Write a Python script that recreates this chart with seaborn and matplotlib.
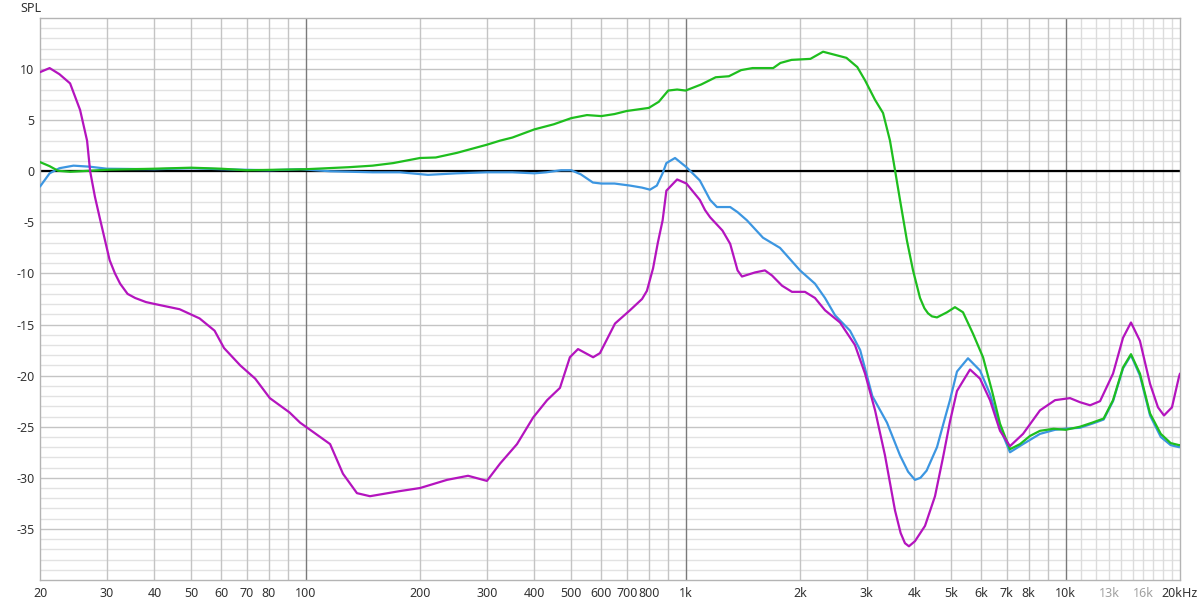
import numpy as np
import pandas as pd
import matplotlib
matplotlib.use('Agg')
import matplotlib.pyplot as plt
import seaborn as sns

# --- Dados (Hz, dB) ---
freq_blue = [20, 21.2, 22.5, 24.5, 27, 30, 40, 50, 60, 80, 97, 116, 150, 177, 210, 250,
             300, 350, 400, 430, 470, 500, 530, 570, 600, 650, 714, 768, 806, 840, 870,
             890, 938, 1005, 1090, 1160, 1209, 1310, 1370, 1450, 1598, 1772, 2000, 2190,
             2327, 2474, 2708, 2880, 3000, 3100, 3388, 3666, 3850, 4014, 4150, 4307, 4587,
             4818, 4962, 5178, 5535, 5954, 6325, 6720, 7138, 7726, 8560, 9380, 10000,
             10910, 11750, 12590, 13330, 14160, 14860, 15690, 16680, 17800, 18900, 19880,
             20000]
spl_blue = [-1.5, -0.2, 0.3, 0.55, 0.45, 0.25, 0.2, 0.3, 0.2, 0.1, 0.2, 0.0, -0.1, -0.1,
            -0.35, -0.2, -0.1, -0.1, -0.2, -0.1, 0.1, 0.1, -0.3, -1.1, -1.2, -1.2, -1.4,
            -1.6, -1.8, -1.4, -0.2, 0.8, 1.3, 0.4, -0.9, -2.8, -3.5, -3.5, -4.0, -4.8, -6.5,
            -7.5, -9.7, -11.0, -12.4, -14.1, -15.6, -17.5, -20.0, -22.0, -24.6, -27.8,
            -29.4, -30.2, -30.0, -29.3, -27.0, -24.1, -22.4, -19.6, -18.3, -19.5, -21.8,
            -25.1, -27.5, -26.7, -25.7, -25.3, -25.2, -25.1, -24.7, -24.3, -22.5, -19.3,
            -18.0, -20.0, -23.9, -26.0, -26.8, -27.0, -27.0]

freq_green = [20, 21.2, 22.3, 24, 27, 30, 40, 50, 60, 70, 100, 130, 150, 170, 200, 220,
              250, 300, 325, 350, 400, 450, 500, 550, 600, 650, 700, 800, 850, 900, 950,
              1000, 1100, 1200, 1300, 1400, 1500, 1700, 1776, 1900, 2130, 2300, 2650, 2830,
              2966, 3150, 3308, 3450, 3557, 3666, 3824, 3967, 4139, 4250, 4344, 4450, 4587,
              4874, 5115, 5370, 5706, 6063, 6402, 6720, 7138, 7586, 8060, 8562, 9300, 10000,
              10910, 11750, 12590, 13330, 14160, 14860, 15690, 16680, 17800, 18900, 19880,
              20000]
spl_green = [0.9, 0.5, 0.05, -0.05, 0.05, 0.15, 0.25, 0.35, 0.25, 0.1, 0.2, 0.4, 0.55,
             0.8, 1.3, 1.35, 1.8, 2.6, 3.0, 3.3, 4.1, 4.6, 5.2, 5.5, 5.4, 5.6, 5.9, 6.2,
             6.8, 7.9, 8.0, 7.9, 8.5, 9.2, 9.3, 9.9, 10.1, 10.1, 10.6, 10.9, 11.0, 11.7,
             11.1, 10.2, 8.9, 7.0, 5.7, 3.0, 0.1, -2.8, -6.8, -9.7, -12.4, -13.4, -13.9,
             -14.2, -14.3, -13.8, -13.3, -13.8, -15.9, -18.2, -21.5, -24.7, -27.2, -26.7,
             -25.9, -25.4, -25.2, -25.3, -25.0, -24.6, -24.2, -22.4, -19.2, -17.9, -19.8,
             -23.7, -25.7, -26.6, -26.8, -26.8]

freq_mag = [20, 21.2, 22.5, 24, 25.5, 26.6, 27.1, 27.9, 28.7, 30.5, 31.5, 32.5, 34,
            35.6, 38, 40.2, 46.6, 52.6, 57.6, 61, 67.3, 73.7, 80.5, 90.7, 96.7, 116, 125.4,
            136.5, 147.7, 177, 200, 235.6, 267.6, 300, 325, 360, 397, 432, 467, 496, 521,
            571, 595, 652, 714, 768, 791, 821, 845, 870, 890, 950, 1005, 1090, 1125, 1160,
            1250, 1310, 1370, 1407, 1523, 1617, 1688, 1794, 1905, 2061, 2190, 2327, 2549,
            2790, 2966, 3152, 3347, 3557, 3680, 3778, 3870, 4014, 4266, 4532, 4758, 4962,
            5178, 5604, 5954, 6325, 6720, 7138, 7726, 8562, 9380, 10270, 10910, 11600,
            12320, 13330, 14160, 14860, 15690, 16680, 17500, 18150, 19050, 19880, 20000]
spl_mag = [9.7, 10.1, 9.5, 8.6, 6.0, 3.0, 0.0, -2.5, -4.5, -8.7, -10.0, -11.0, -12.0,
           -12.4, -12.8, -13.0, -13.5, -14.4, -15.6, -17.3, -19.0, -20.3, -22.2, -23.6,
           -24.6, -26.7, -29.6, -31.5, -31.8, -31.3, -31.0, -30.2, -29.8, -30.3, -28.6,
           -26.7, -24.1, -22.4, -21.2, -18.2, -17.4, -18.2, -17.8, -14.9, -13.6, -12.5,
           -11.7, -9.5, -7.0, -4.8, -1.9, -0.8, -1.2, -2.8, -3.8, -4.5, -5.8, -7.1, -9.7,
           -10.3, -9.9, -9.7, -10.2, -11.2, -11.8, -11.8, -12.4, -13.6, -14.8, -17.0,
           -19.8, -23.4, -27.8, -33.2, -35.4, -36.4, -36.7, -36.2, -34.7, -31.8, -28.0,
           -24.5, -21.5, -19.4, -20.3, -22.4, -25.4, -26.9, -25.7, -23.4, -22.4, -22.2,
           -22.6, -22.9, -22.5, -19.8, -16.3, -14.8, -16.6, -20.8, -23.1, -23.9, -23.1,
           -20.1, -19.8]

series_order = ['azul', 'verde', 'magenta']
series_colors = {'azul': '#3c96e1', 'verde': '#1ebe1e', 'magenta': '#b414be'}

x_label_pos = [20, 30, 40, 50, 60, 70, 80, 100, 200, 300, 400, 500, 600, 700, 800,
               1000, 2000, 3000, 4000, 5000, 6000, 7000, 8000, 10000, 13000, 16000, 20000]
x_label_txt = ['20', '30', '40', '50', '60', '70', '80', '100', '200', '300', '400', '500',
               '600', '700', '800', '1k', '2k', '3k', '4k', '5k', '6k', '7k', '8k', '10k',
               '13k', '16k', '20kHz']
y_label_pos = [-35, -30, -25, -20, -15, -10, -5, 0, 5, 10]

df = pd.concat([
    pd.DataFrame({'freq': freq_blue, 'spl': spl_blue, 'curva': 'azul'}),
    pd.DataFrame({'freq': freq_green, 'spl': spl_green, 'curva': 'verde'}),
    pd.DataFrame({'freq': freq_mag, 'spl': spl_mag, 'curva': 'magenta'}),
], ignore_index=True)

sns.set_style('white')
plt.rcParams['font.family'] = ['Noto Sans', 'DejaVu Sans']

fig = plt.figure(figsize=(12, 6.04), dpi=100)
ax = fig.add_axes([40 / 1200, 24 / 604, 1140 / 1200, 562 / 604])

# grade
grid_low = list(range(30, 100, 10)) + list(range(200, 1000, 100)) + list(range(2000, 10000, 1000))
grid_high = list(range(11000, 20000, 1000))
for g in grid_low:
    ax.axvline(g, color='#c4c4c4', lw=1, zorder=1)
for g in grid_high:
    ax.axvline(g, color='#dcdcdc', lw=1, zorder=1)
for g in [100, 1000, 10000]:
    ax.axvline(g, color='#7a7a7a', lw=1, zorder=1.5)
for v in range(-39, 15):
    if v % 5 == 0:
        ax.axhline(v, color='#c4c4c4', lw=1, zorder=1.2)
    else:
        ax.axhline(v, color='#e2e2e2', lw=1, zorder=0.9)
ax.axhline(0, color='black', lw=1.6, zorder=2)

sns.lineplot(data=df, x='freq', y='spl', hue='curva', hue_order=series_order,
             palette=series_colors, lw=1.6, legend=False, ax=ax, zorder=3,
             solid_joinstyle='round', solid_capstyle='round')

ax.set_xscale('log')
ax.set_xlim(20, 20000)
ax.set_ylim(-40, 15)
ax.minorticks_off()
ax.set_xticks(x_label_pos)
ax.set_xticklabels(x_label_txt)
ax.set_yticks(y_label_pos)
ax.set_yticklabels([str(v) for v in y_label_pos])
ax.tick_params(axis='both', length=0, labelsize=9, labelcolor='#333333')
ax.tick_params(axis='x', pad=5)
ax.tick_params(axis='y', pad=4)
for lbl in ax.get_xticklabels():
    if lbl.get_text() in ('13k', '16k'):
        lbl.set_color('#a0a0a0')
ax.set_xlabel('')
ax.set_ylabel('')
for s in ax.spines.values():
    s.set_color('#b4b4b4')
    s.set_linewidth(1)

fig.text(20 / 1200, 1 - 8 / 604, 'SPL', fontsize=9, color='#333333', va='center')

fig.savefig('out.png', dpi=100)
